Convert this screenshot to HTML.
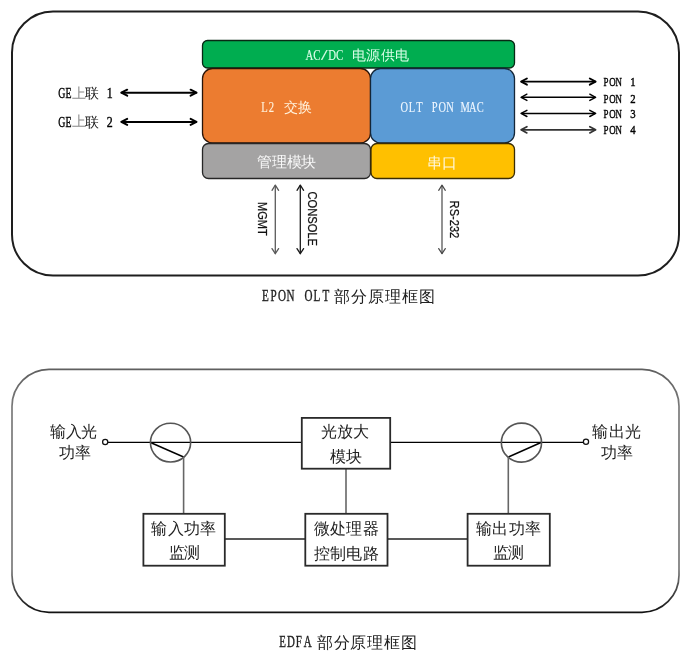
<!DOCTYPE html>
<html>
<head>
<meta charset="utf-8">
<title>EPON OLT / EDFA</title>
<style>
html,body{margin:0;padding:0;background:#fff;width:700px;height:668px;overflow:hidden;}
svg{display:block;font-family:"Liberation Sans",sans-serif;will-change:transform;}
</style>
</head>
<body>
<svg width="700" height="668" viewBox="0 0 700 668">
<rect x="12" y="11.5" width="667" height="264" rx="41" ry="41" fill="#fff" stroke="#1e1e1e" stroke-width="2"/>
<rect x="202.5" y="40.5" width="312" height="27.5" rx="5" fill="#00AD50" stroke="#082814" stroke-width="1.3"/>
<rect x="202.5" y="68.5" width="168" height="74.5" rx="10" fill="#EC7C30" stroke="#2a1408" stroke-width="1.3"/>
<rect x="370.5" y="68.5" width="144" height="74.5" rx="10" fill="#5B9BD5" stroke="#142638" stroke-width="1.3"/>
<rect x="202.5" y="143.5" width="168" height="35" rx="6" fill="#A4A3A3" stroke="#262626" stroke-width="1.3"/>
<rect x="371" y="143.5" width="143.5" height="35" rx="6" fill="#FFC000" stroke="#3a2c04" stroke-width="1.3"/>
<text transform="translate(0,60.30) scale(0.694,1)" x="446.00 456.51 478.54 489.20" y="0" font-family="Liberation Serif, serif" font-size="15.60" fill="#dcffea" stroke="#dcffea" stroke-width="0.15" text-anchor="middle">ACDC</text>
<text transform="translate(0,60.30) scale(1.512,1)" x="214.55" y="0" font-family="Liberation Serif, serif" font-size="15.60" fill="#dcffea" stroke="#dcffea" stroke-width="0.10" text-anchor="middle">/</text>
<text x="359.36 373.49 387.61 401.74" y="60.00" font-size="13.60" fill="#dcffea" text-anchor="middle">电源供电</text>
<text transform="translate(0,111.90) scale(0.739,1)" x="357.95 367.42" y="0" font-family="Liberation Serif, serif" font-size="14.40" fill="#fff2dc" stroke="#fff2dc" stroke-width="0.15" text-anchor="middle">L2</text>
<text x="291.15 305.05" y="111.60" font-size="14.00" fill="#fff2dc" text-anchor="middle">交换</text>
<text transform="translate(0,111.50) scale(0.717,1)" x="563.90 574.50 585.10 606.31 616.91 627.51 648.72 659.32 669.92" y="0" font-family="Liberation Serif, serif" font-size="14.60" fill="#eef6ff" stroke="#eef6ff" stroke-width="0.15" text-anchor="middle">OLTPONMAC</text>
<text x="264.43 279.27 294.12 308.98" y="166.50" font-size="15.00" fill="#f8f8f8" text-anchor="middle">管理模块</text>
<text x="434.75 449.25" y="167.90" font-size="15.00" fill="#fff8e0" text-anchor="middle">串口</text>
<text transform="translate(0,97.70) scale(0.694,1)" x="89.14 98.79" y="0" font-family="Liberation Serif, serif" font-size="14.20" fill="#000" stroke="#000" stroke-width="0.40" text-anchor="middle">GE</text>
<text x="79.25" y="97.50" font-size="13.50" fill="#8a8a8a" text-anchor="middle">上</text>
<text x="91.90" y="98.00" font-size="13.50" fill="#111" text-anchor="middle">联</text>
<text transform="translate(0,97.70) scale(0.840,1)" x="130.60" y="0" font-family="Liberation Serif, serif" font-size="14.20" fill="#000" stroke="#000" stroke-width="0.40" text-anchor="middle">1</text>
<text transform="translate(0,126.50) scale(0.694,1)" x="89.14 98.79" y="0" font-family="Liberation Serif, serif" font-size="14.20" fill="#000" stroke="#000" stroke-width="0.40" text-anchor="middle">GE</text>
<text x="79.25" y="126.30" font-size="13.50" fill="#8a8a8a" text-anchor="middle">上</text>
<text x="91.90" y="126.80" font-size="13.50" fill="#111" text-anchor="middle">联</text>
<text transform="translate(0,126.50) scale(0.840,1)" x="130.60" y="0" font-family="Liberation Serif, serif" font-size="14.20" fill="#000" stroke="#000" stroke-width="0.40" text-anchor="middle">2</text>
<g stroke="#000" stroke-width="2" fill="none" stroke-linecap="round" stroke-linejoin="round">
<line x1="122" y1="92.7" x2="196" y2="92.7"/>
<polyline points="127.2,89.7 121.3,92.7 127.2,95.7"/>
<polyline points="190.6,89.7 196.5,92.7 190.6,95.7"/>
<line x1="122" y1="121.9" x2="196" y2="121.9"/>
<polyline points="127.2,118.9 121.3,121.9 127.2,124.9"/>
<polyline points="190.6,118.9 196.5,121.9 190.6,124.9"/>
</g>
<g fill="none" stroke-linecap="round" stroke-linejoin="round">
<g stroke="#000" stroke-width="1.9">
<line x1="522" y1="81.6" x2="595" y2="81.6"/>
<polyline points="526.9,78.5 521.1,81.6 526.9,84.7"/>
<polyline points="589.8,78.5 595.6,81.6 589.8,84.7"/>
</g>
<g stroke="#000" stroke-width="1.4">
<line x1="522" y1="97.3" x2="595" y2="97.3"/>
<polyline points="526.9,94.2 521.1,97.3 526.9,100.4"/>
<polyline points="589.8,94.2 595.6,97.3 589.8,100.4"/>
</g>
<g stroke="#000" stroke-width="1.5">
<line x1="522" y1="113.4" x2="595" y2="113.4"/>
<polyline points="526.9,110.3 521.1,113.4 526.9,116.5"/>
<polyline points="589.8,110.3 595.6,113.4 589.8,116.5"/>
</g>
<g stroke="#333" stroke-width="1.7">
<line x1="522" y1="129.8" x2="595" y2="129.8"/>
<polyline points="526.9,126.7 521.1,129.8 526.9,132.9"/>
<polyline points="589.8,126.7 595.6,129.8 589.8,132.9"/>
</g>
</g>
<text transform="translate(0,85.70) scale(0.694,1)" x="873.13 882.34 891.56" y="0" font-family="Liberation Serif, serif" font-size="12.80" fill="#000" stroke="#000" stroke-width="0.40" text-anchor="middle">PON</text>
<text transform="translate(0,85.70) scale(0.840,1)" x="753.57" y="0" font-family="Liberation Serif, serif" font-size="12.80" fill="#000" stroke="#000" stroke-width="0.40" text-anchor="middle">1</text>
<text transform="translate(0,102.50) scale(0.694,1)" x="873.13 882.34 891.56" y="0" font-family="Liberation Serif, serif" font-size="12.80" fill="#000" stroke="#000" stroke-width="0.40" text-anchor="middle">PON</text>
<text transform="translate(0,102.50) scale(0.840,1)" x="753.57" y="0" font-family="Liberation Serif, serif" font-size="12.80" fill="#000" stroke="#000" stroke-width="0.40" text-anchor="middle">2</text>
<text transform="translate(0,117.90) scale(0.694,1)" x="873.13 882.34 891.56" y="0" font-family="Liberation Serif, serif" font-size="12.80" fill="#000" stroke="#000" stroke-width="0.40" text-anchor="middle">PON</text>
<text transform="translate(0,117.90) scale(0.840,1)" x="753.57" y="0" font-family="Liberation Serif, serif" font-size="12.80" fill="#000" stroke="#000" stroke-width="0.40" text-anchor="middle">3</text>
<text transform="translate(0,134.30) scale(0.694,1)" x="873.13 882.34 891.56" y="0" font-family="Liberation Serif, serif" font-size="12.80" fill="#000" stroke="#000" stroke-width="0.40" text-anchor="middle">PON</text>
<text transform="translate(0,134.30) scale(0.840,1)" x="753.57" y="0" font-family="Liberation Serif, serif" font-size="12.80" fill="#000" stroke="#000" stroke-width="0.40" text-anchor="middle">4</text>
<g fill="none" stroke-linecap="round" stroke-linejoin="round">
<g stroke="#5a5a5a" stroke-width="1.3">
<line x1="275.3" y1="185.5" x2="275.3" y2="253.5"/>
<polyline points="272.0,190.3 275.3,185.2 278.6,190.3"/>
<polyline points="272.0,248.6 275.3,253.7 278.6,248.6"/>
</g>
<g stroke="#1a1a1a" stroke-width="1.3">
<line x1="300.3" y1="185.5" x2="300.3" y2="253.5"/>
<polyline points="297.0,190.3 300.3,185.2 303.6,190.3"/>
<polyline points="297.0,248.6 300.3,253.7 303.6,248.6"/>
</g>
<g stroke="#4a4a4a" stroke-width="1.2">
<line x1="442.0" y1="185.5" x2="442.0" y2="253.5"/>
<polyline points="438.7,190.3 442.0,185.2 445.3,190.3"/>
<polyline points="438.7,248.6 442.0,253.7 445.3,248.6"/>
</g>
</g>
<g font-family="Liberation Sans, sans-serif" font-size="12.5" fill="#111" stroke="#111" stroke-width="0.25">
<text transform="translate(257.9,202) rotate(90)" textLength="33.7" lengthAdjust="spacingAndGlyphs">MGMT</text>
<text transform="translate(308.3,191.4) rotate(90)" textLength="54.6" lengthAdjust="spacingAndGlyphs">CONSOLE</text>
<text transform="translate(450.3,200.6) rotate(90)" textLength="37.7" lengthAdjust="spacingAndGlyphs">RS-232</text>
</g>
<text transform="translate(0,301.20) scale(0.672,1)" x="394.79 407.14 419.64 432.44 459.08 471.58 484.97" y="0" font-family="Liberation Serif, serif" font-size="16.50" fill="#222" stroke="#222" stroke-width="0.40" text-anchor="middle">EPONOLT</text>
<text x="342.20 359.15 376.10 393.05 410.00 426.95" y="301.80" font-size="16.00" fill="#222" text-anchor="middle">部分原理框图</text>
<defs><linearGradient id="b2" gradientUnits="userSpaceOnUse" x1="0" y1="368" x2="0" y2="613"><stop offset="0" stop-color="#5e5e5e"/><stop offset="0.16" stop-color="#7a7a7a"/><stop offset="0.82" stop-color="#7a7a7a"/><stop offset="1" stop-color="#111"/></linearGradient></defs>
<rect x="12" y="369.3" width="667" height="243" rx="37" ry="37" fill="#fff" stroke="url(#b2)" stroke-width="1.7"/>
<g stroke="#000" stroke-width="1.4" fill="none">
<line x1="108" y1="442.4" x2="301.8" y2="442.4"/>
<line x1="390.2" y1="442.4" x2="583" y2="442.4"/>
<line x1="150.5" y1="442.5" x2="183.6" y2="457"/>
<line x1="541" y1="442.5" x2="508.4" y2="457"/>
</g>
<circle cx="105.2" cy="441.9" r="2.6" fill="#fff" stroke="#111" stroke-width="1.25"/>
<circle cx="586" cy="441.8" r="2.6" fill="#fff" stroke="#111" stroke-width="1.25"/>
<g stroke="#555" stroke-width="1.6" fill="none">
<ellipse cx="170.55" cy="442.6" rx="20.1" ry="19.4"/>
<ellipse cx="521.45" cy="442.65" rx="20.1" ry="19.5"/>
</g>
<g stroke="#666" stroke-width="1.6" fill="none">
<line x1="183.6" y1="457" x2="183.6" y2="513.8"/>
<line x1="508.3" y1="457" x2="508.3" y2="513.8"/>
<line x1="346" y1="468.7" x2="346" y2="513.8"/>
</g>
<g stroke="#222" stroke-width="1.6" fill="none">
<line x1="224.8" y1="539" x2="305.3" y2="539"/>
<line x1="387.5" y1="539" x2="467.6" y2="539"/>
</g>
<g fill="#fff" stroke="#2a2a2a" stroke-width="1.8">
<rect x="143.4" y="513.8" width="81.4" height="51.9"/>
<rect x="301.8" y="417.9" width="88.4" height="50.8"/>
<rect x="305.3" y="513.8" width="82.2" height="51.9"/>
<rect x="467.6" y="513.8" width="82.2" height="51.9"/>
</g>
<g font-family="Liberation Sans, sans-serif">
<text x="58.10 73.70 89.30" y="437.00" font-size="16.00" fill="#222" text-anchor="middle">输入光</text>
<text x="67.15 82.65" y="457.80" font-size="16.00" fill="#222" text-anchor="middle">功率</text>
<text x="600.40 616.60 632.80" y="437.00" font-size="16.00" fill="#222" text-anchor="middle">输出光</text>
<text x="609.27 625.02" y="457.50" font-size="16.00" fill="#222" text-anchor="middle">功率</text>
<text x="329.40 345.40 361.40" y="436.80" font-size="16.00" fill="#222" text-anchor="middle">光放大</text>
<text x="338.35 353.85" y="462.00" font-size="16.00" fill="#222" text-anchor="middle">模块</text>
<text x="159.36 175.69 192.01 208.34" y="533.70" font-size="16.00" fill="#222" text-anchor="middle">输入功率</text>
<text x="176.80 191.80" y="558.40" font-size="16.00" fill="#222" text-anchor="middle">监测</text>
<text x="321.75 338.05 354.35 370.65" y="534.00" font-size="16.00" fill="#222" text-anchor="middle">微处理器</text>
<text x="321.75 338.05 354.35 370.65" y="559.00" font-size="16.00" fill="#222" text-anchor="middle">控制电路</text>
<text x="484.02 500.27 516.52 532.77" y="533.70" font-size="16.00" fill="#222" text-anchor="middle">输出功率</text>
<text x="500.88 516.23" y="558.40" font-size="16.00" fill="#222" text-anchor="middle">监测</text>
</g>
<text transform="translate(0,647.20) scale(0.672,1)" x="420.54 432.89 444.79 457.89" y="0" font-family="Liberation Serif, serif" font-size="16.20" fill="#222" stroke="#222" stroke-width="0.40" text-anchor="middle">EDFA</text>
<text x="325.00 341.70 358.40 375.10 391.80 408.50" y="648.00" font-size="16.00" fill="#222" text-anchor="middle">部分原理框图</text>
</svg>
</body>
</html>
